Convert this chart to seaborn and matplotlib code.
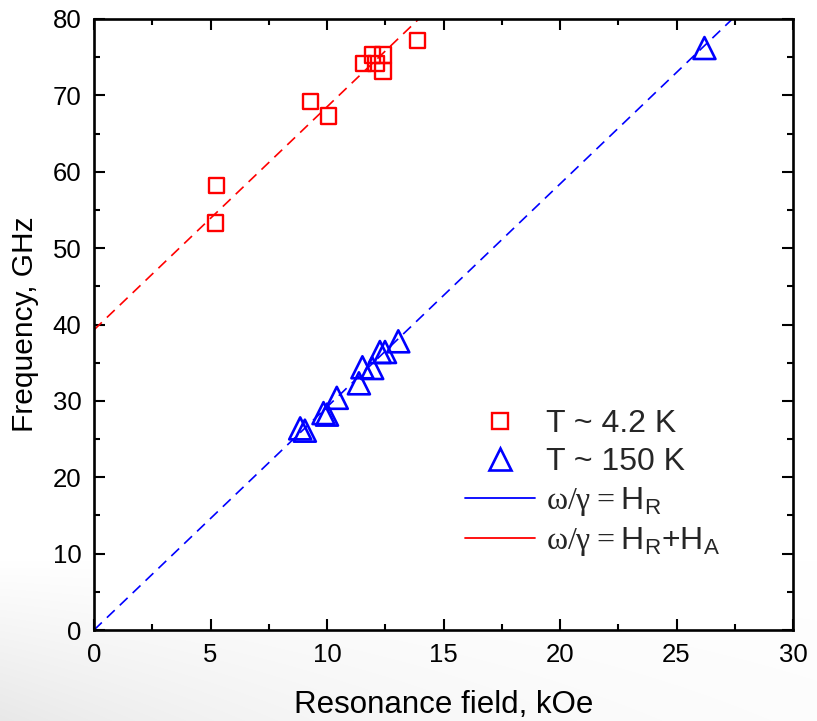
import numpy as np
import pandas as pd
import matplotlib
matplotlib.use("Agg")
import matplotlib.pyplot as plt
from matplotlib.lines import Line2D
from matplotlib.ticker import MultipleLocator
import seaborn as sns

# Resonance data at low temperature (red squares)
field_4k = [5.2, 5.25, 9.3, 10.05, 11.55, 11.95, 12.1, 12.4, 12.4, 13.9]
freq_4k = [53.3, 58.2, 69.2, 67.3, 74.2, 75.3, 74.2, 75.3, 73.2, 77.2]

# Resonance data at high temperature (blue triangles)
field_150k = [8.85, 9.05, 9.85, 10.0, 10.42, 11.37, 11.52, 11.94, 12.27, 12.49, 13.06, 26.2]
freq_150k = [26.4, 26.1, 28.4, 28.2, 30.4, 32.3, 34.4, 34.3, 36.4, 36.4, 37.8, 76.2]

# Linear dispersion lines: omega/gamma = H_R (+ H_A)
gamma_slope = 2.92
anis_offset = 39.3
fit_field = [0.0, 30.0]

sns.set_theme(style="ticks")
plt.rcParams["font.family"] = ["Liberation Sans", "DejaVu Sans"]
plt.rcParams["mathtext.fontset"] = "custom"
plt.rcParams["mathtext.rm"] = "Liberation Serif"
plt.rcParams["mathtext.sf"] = "Liberation Sans"

W, H = 817, 721
fig = plt.figure(figsize=(W / 100, H / 100), dpi=100)

# soft grey shading in the lower-left corner of the sheet
yy, xx = np.mgrid[0:H, 0:W]
shade = 0.09 * np.exp(-xx / 380.0) * np.clip((yy - 560) / 161.0, 0, 1)
bg = np.dstack([1 - shade] * 3)
fig.figimage(bg[::-1], xo=0, yo=0, origin="lower", zorder=0)

ax = fig.add_axes([94 / W, 1 - 630 / H, (793 - 94) / W, (630 - 19) / H])
ax.set_zorder(1)

fit_df = pd.DataFrame({
    "H": fit_field * 2,
    "f": [gamma_slope * h for h in fit_field] + [gamma_slope * h + anis_offset for h in fit_field],
    "line": ["HR"] * 2 + ["HRHA"] * 2,
})
sns.lineplot(data=fit_df[fit_df.line == "HR"], x="H", y="f", ax=ax, color="#0000ff",
             linewidth=1.2, legend=False)
sns.lineplot(data=fit_df[fit_df.line == "HRHA"], x="H", y="f", ax=ax, color="#ff0000",
             linewidth=1.2, legend=False)
for ln in ax.get_lines():
    ln.set_dashes([6.5, 4.2])

sq_df = pd.DataFrame({"H": field_4k, "f": freq_4k})
tri_df = pd.DataFrame({"H": field_150k, "f": freq_150k})
sns.scatterplot(data=sq_df, x="H", y="f", ax=ax, marker="s", s=120,
                facecolor="none", edgecolor="#ff0000", linewidth=1.7, zorder=3)
sns.scatterplot(data=tri_df, x="H", y="f", ax=ax, marker="^", s=250,
                facecolor="none", edgecolor="#0000ff", linewidth=1.9, zorder=3)

ax.set_xlim(0, 30)
ax.set_ylim(0, 80)
ax.xaxis.set_major_locator(MultipleLocator(5))
ax.xaxis.set_minor_locator(MultipleLocator(2.5))
ax.yaxis.set_major_locator(MultipleLocator(10))
ax.yaxis.set_minor_locator(MultipleLocator(5))
ax.tick_params(which="both", direction="in", top=True, right=True, color="black",
               width=1.5, labelsize=18.5, labelcolor="black")
ax.tick_params(which="major", length=8, pad=9)
ax.tick_params(which="minor", length=4)
for sp in ax.spines.values():
    sp.set_visible(True)
    sp.set_linewidth(1.9)
    sp.set_color("black")

ax.set_xlabel("Resonance field, kOe", fontsize=22.5, color="black", labelpad=17)
ax.set_ylabel("Frequency, GHz", fontsize=21.5, color="black", labelpad=10)

handles = [
    Line2D([], [], linestyle="none", marker="s", markersize=11.5, markerfacecolor="none",
           markeredgecolor="#ff0000", markeredgewidth=1.7),
    Line2D([], [], linestyle="none", marker="^", markersize=15.5, markerfacecolor="none",
           markeredgecolor="#0000ff", markeredgewidth=1.9),
    Line2D([], [], color="#0000ff", linewidth=1.3),
    Line2D([], [], color="#ff0000", linewidth=1.3),
]
labels = [
    "T ~ 4.2 K",
    "T ~ 150 K",
    r"$\mathrm{\omega/\gamma} = \mathsf{H}_\mathsf{R}$",
    r"$\mathrm{\omega/\gamma} = \mathsf{H}_\mathsf{R}\mathsf{+H}_\mathsf{A}$",
]
leg = ax.legend(handles, labels, loc="upper left", bbox_to_anchor=(0.531, 0.361),
                frameon=False, fontsize=23, handlelength=2.2, handletextpad=0.32,
                labelspacing=0.24, borderpad=0, borderaxespad=0)

fig.savefig("out.png", dpi=100)
